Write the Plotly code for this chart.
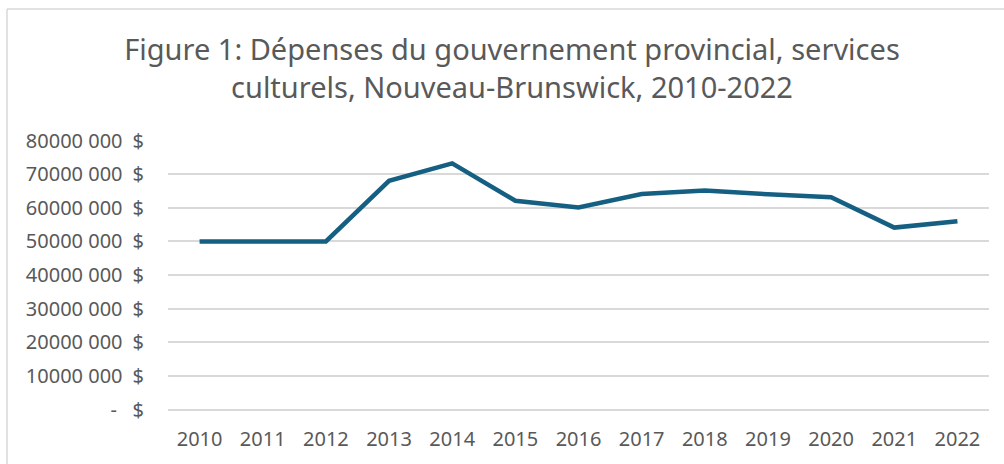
import plotly.graph_objects as go

# ---- data ----
years = ["2010", "2011", "2012", "2013", "2014", "2015", "2016",
         "2017", "2018", "2019", "2020", "2021", "2022"]
depenses = [50_000_000, 50_000_000, 50_000_000, 68_000_000, 73_200_000, 62_100_000,
            60_100_000, 64_100_000, 65_100_000, 64_000_000, 63_100_000, 54_100_000,
            56_000_000]
y_tickvals = [0, 10_000_000, 20_000_000, 30_000_000, 40_000_000,
              50_000_000, 60_000_000, 70_000_000, 80_000_000]
NB = "\u00a0"
EN = "\u2002"
y_ticktext = ["-" + NB * 3 + "$",
              "10000 000" + EN + "$",
              "20000 000" + EN + "$",
              "30000 000" + EN + "$",
              "40000 000" + EN + "$",
              "50000 000" + EN + "$",
              "60000 000" + EN + "$",
              "70000 000" + EN + "$",
              "80000 000" + EN + "$"]
title_text = ("Figure 1: Dépenses du gouvernement provincial, services<br>"
              "culturels, Nouveau-Brunswick, 2010-2022")

# ---- layout geometry ----
W, H = 1004, 464
L, R, T, B = 168, 15, 140, 52
pw, ph = W - L - R, H - T - B

FONT = "Noto Sans"
TXT = "#595959"
GRID = "#d9d9d9"

fig = go.Figure()
fig.add_trace(go.Scatter(
    x=years, y=depenses, mode="lines",
    line=dict(color="#156082", width=4.5),
    hoverinfo="x+y", showlegend=False,
))

# chart-area border (left and top edges visible)
bx = (7 - L) / pw
by = (H - B - 8) / ph
fig.add_shape(type="line", xref="paper", yref="paper",
              x0=bx, x1=bx, y0=by, y1=-0.5,
              line=dict(color=GRID, width=1.5))
fig.add_shape(type="line", xref="paper", yref="paper",
              x0=bx, x1=1.1, y0=by, y1=by,
              line=dict(color=GRID, width=1.5))

fig.update_layout(
    width=W, height=H,
    margin=dict(l=L, r=R, t=T, b=B),
    paper_bgcolor="white", plot_bgcolor="white",
    font=dict(family=FONT, color=TXT, size=20),
    title=dict(text=title_text, x=512 / W, xref="container", xanchor="center",
               y=(H - 60) / H, yref="container", yanchor="middle",
               font=dict(family=FONT, size=29, color=TXT)),
    xaxis=dict(type="category", range=[-0.5, len(years) - 0.5],
               showgrid=False, zeroline=False, showline=False,
               ticks="outside", ticklen=11, tickcolor="rgba(0,0,0,0)",
               tickfont=dict(size=20, color=TXT)),
    yaxis=dict(range=[-150_000, 80_150_000], tickvals=y_tickvals, ticktext=y_ticktext,
               showgrid=True, gridcolor=GRID, gridwidth=1.5,
               zeroline=True, zerolinecolor=GRID, zerolinewidth=1.5,
               showline=False,
               ticks="outside", ticklen=19, tickcolor="rgba(0,0,0,0)",
               tickfont=dict(size=20, color=TXT)),
)

fig.write_html("out.html", config={"displayModeBar": False},
               post_script="document.body.style.margin='0';")
